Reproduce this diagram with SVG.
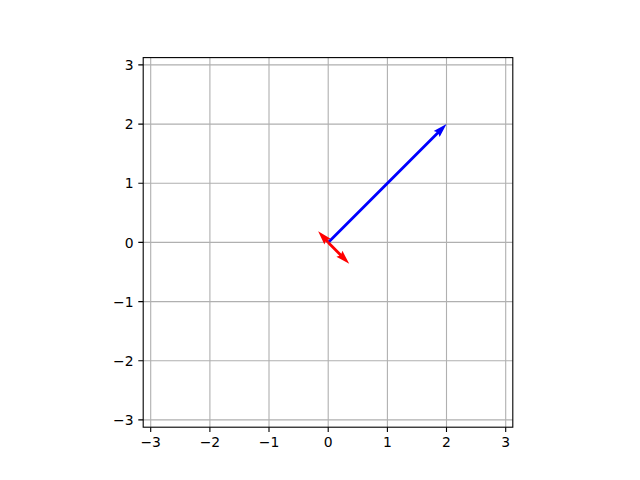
<svg xmlns="http://www.w3.org/2000/svg" width="640" height="480" viewBox="0 0 640 480">
<style>
.grid{stroke:#b0b0b0;stroke-width:1.1;fill:none}
.tick{stroke:#000;stroke-width:1.1}
.lbl{font-family:"DejaVu Sans",sans-serif;font-size:13.9px;fill:#000}
.xl{text-anchor:middle}
.yl{text-anchor:end}
</style>
<rect width="640" height="480" fill="#fff"/>
<g id="grid">
<path class="grid" d="M150.7 57.6V427.2M209.9 57.6V427.2M269 57.6V427.2M328.2 57.6V427.2M387.4 57.6V427.2M446.5 57.6V427.2M505.7 57.6V427.2"/>
<path class="grid" d="M143.2 64.9H512.8M143.2 124.1H512.8M143.2 183.2H512.8M143.2 242.4H512.8M143.2 301.6H512.8M143.2 360.7H512.8M143.2 419.9H512.8"/>
</g>
<g id="connectors">
<polygon id="blue-arrow" fill="#0000ff" transform="translate(328.2,242.4) rotate(-45)" points="0,1.4 154.8,1.4 153.4,4.2 167.4,0 153.4,-4.2 154.8,-1.4 0,-1.4"/>
<polygon id="red-arrow-1" fill="#ff0000" transform="translate(328.2,242.4) rotate(45.5)" points="0,1.4 17.4,1.4 16,4.2 30,0 16,-4.2 17.4,-1.4 0,-1.4"/>
<polygon id="red-arrow-2" fill="#ff0000" transform="translate(328.2,242.4) rotate(228)" points="0,1.4 2.4,1.4 1,4.2 15,0 1,-4.2 2.4,-1.4 0,-1.4"/>
</g>
<g id="frame">
<rect x="143.2" y="57.6" width="369.6" height="369.6" fill="none" stroke="#000" stroke-width="1.1"/>
<path class="tick" d="M150.7 427.2v4.9M209.9 427.2v4.9M269 427.2v4.9M328.2 427.2v4.9M387.4 427.2v4.9M446.5 427.2v4.9M505.7 427.2v4.9"/>
<path class="tick" d="M143.2 64.9h-4.9M143.2 124.1h-4.9M143.2 183.2h-4.9M143.2 242.4h-4.9M143.2 301.6h-4.9M143.2 360.7h-4.9M143.2 419.9h-4.9"/>
</g>
<g id="xlabels" class="lbl xl">
<text x="150.7" y="446.5">−3</text>
<text x="209.9" y="446.5">−2</text>
<text x="269" y="446.5">−1</text>
<text x="328.2" y="446.5">0</text>
<text x="387.4" y="446.5">1</text>
<text x="446.5" y="446.5">2</text>
<text x="505.7" y="446.5">3</text>
</g>
<g id="ylabels" class="lbl yl">
<text x="133.5" y="70">3</text>
<text x="133.5" y="129.2">2</text>
<text x="133.5" y="188.3">1</text>
<text x="133.5" y="247.5">0</text>
<text x="133.5" y="306.7">−1</text>
<text x="133.5" y="365.8">−2</text>
<text x="133.5" y="425">−3</text>
</g>
</svg>
